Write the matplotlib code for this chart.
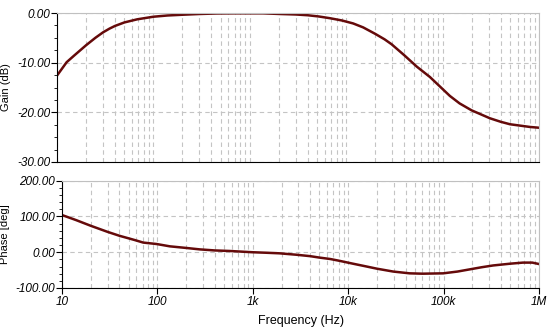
import numpy as np
import matplotlib.pyplot as plt
from matplotlib.ticker import FixedLocator, MultipleLocator, LogLocator, NullFormatter

plt.rcParams['font.family'] = ['Liberation Sans', 'DejaVu Sans']

# Gain curve (frequency in Hz, gain in dB)
gain_freq = [10, 12.6, 15, 20, 25, 30, 35, 40, 50, 68, 100, 140, 200, 300, 450, 700,
             1370, 2060, 3000, 3980, 5200, 6790, 9000, 11800, 15000, 20000, 25000,
             29600, 40000, 54000, 74000, 95000, 119000, 150000, 200000, 310000,
             400000, 500000, 650000, 810000, 1000000]
gain_db = [-12.6, -9.9, -8.6, -6.5, -5.0, -3.9, -3.15, -2.6, -1.9, -1.27, -0.75, -0.5,
           -0.35, -0.2, -0.1, -0.07, -0.07, -0.2, -0.3, -0.45, -0.7, -1.05, -1.5,
           -2.1, -2.9, -4.2, -5.3, -6.3, -8.5, -10.8, -12.9, -14.9, -16.7, -18.2,
           -19.6, -21.2, -21.9, -22.4, -22.7, -22.95, -23.1]

# Phase curve (degrees)
phase_freq = [10, 14, 20, 30, 40, 58, 71, 98, 135, 200, 277, 400, 573, 990, 1400,
              1900, 2860, 4000, 5000, 6500, 8100, 11200, 15000, 20000, 29600, 44000,
              60000, 99000, 140000, 187000, 250000, 330000, 500000, 680000, 850000,
              1000000]
phase_deg = [104, 90, 74, 57, 46, 34, 27, 23, 16.5, 12, 8, 5, 3.5, 0, -1.5, -3,
             -7, -11, -15, -19, -24, -32, -39, -46, -54, -59, -60, -59, -54, -48,
             -42, -37, -32, -29, -29, -33]

x_ticks = [10, 100, 1e3, 1e4, 1e5, 1e6]
x_labels = ['10', '100', '1k', '10k', '100k', '1M']

line_color = '#650a0a'
grid_kw = dict(color='#c4c4c4', linestyle=(0, (4, 3)), linewidth=0.8)

fig = plt.figure(figsize=(5.48, 3.35), dpi=100)
ax1 = fig.add_axes([57 / 548, 1 - 162 / 335, 482 / 548, 149 / 335])
ax2 = fig.add_axes([62 / 548, 1 - 288 / 335, 477 / 548, 107.3 / 335])

for ax in (ax1, ax2):
    ax.set_xscale('log')
    ax.set_xlim(10, 1e6)
    ax.xaxis.set_major_locator(FixedLocator(x_ticks))
    ax.xaxis.set_minor_locator(LogLocator(base=10, subs=np.arange(2, 10)))
    ax.xaxis.set_minor_formatter(NullFormatter())
    ax.grid(True, which='major', axis='both', **grid_kw)
    ax.grid(True, which='minor', axis='x', **grid_kw)
    ax.spines['top'].set_color('#c0c0c0')
    ax.spines['right'].set_color('#c0c0c0')
    ax.spines['left'].set_color('black')
    ax.spines['bottom'].set_color('black')
    ax.tick_params(axis='both', which='major', direction='out', length=4,
                   labelsize=8.5, pad=1)
    ax.tick_params(axis='y', which='minor', direction='out', length=2)
    ax.tick_params(axis='x', which='minor', length=0)

# Gain panel
ax1.plot(gain_freq, gain_db, color=line_color, linewidth=1.8)
ax1.set_ylim(-30, 0)
ax1.yaxis.set_major_locator(MultipleLocator(10))
ax1.yaxis.set_minor_locator(MultipleLocator(2.5))
ax1.yaxis.set_major_formatter(lambda v, p: f'{v:.2f}')
ax1.tick_params(axis='x', which='both', labelbottom=False, length=0)
ax1.set_ylabel('Gain (dB)', fontsize=8, labelpad=4)
for lab in ax1.get_yticklabels():
    lab.set_style('italic')

# Phase panel
ax2.plot(phase_freq, phase_deg, color=line_color, linewidth=1.8)
ax2.set_ylim(-100, 200)
ax2.yaxis.set_major_locator(MultipleLocator(100))
ax2.yaxis.set_minor_locator(MultipleLocator(20))
ax2.yaxis.set_major_formatter(lambda v, p: f'{v:.2f}')
ax2.set_xticklabels(x_labels)
ax2.tick_params(axis='x', which='major', pad=2)
ax2.set_ylabel('Phase [deg]', fontsize=8, labelpad=4)
ax2.set_xlabel('Frequency (Hz)', fontsize=9, labelpad=5)
for lab in ax2.get_yticklabels() + ax2.get_xticklabels():
    lab.set_style('italic')

fig.savefig('out.png', dpi=100)
